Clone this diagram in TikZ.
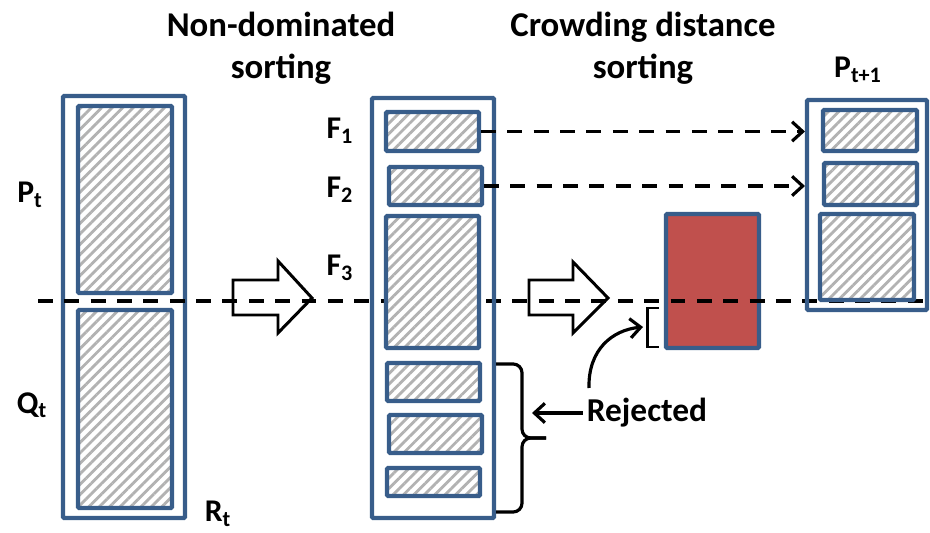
\documentclass[tikz,border=0pt]{standalone}
\usepackage{fontspec}
\setmainfont{Carlito}
\usetikzlibrary{arrows.meta, positioning, fit, patterns.meta}
\definecolor{boxblue}{RGB}{56, 93, 138}
\definecolor{cutred}{RGB}{192, 80, 77}
\begin{document}
\begin{tikzpicture}[x=0.02cm, y=-0.02cm,
    popbox/.style={draw=boxblue, line width=2.3pt, inner sep=0pt, rounded corners=0.6pt},
    front/.style={popbox, preaction={fill=white}, pattern={Lines[angle=45, distance=4.2pt, line width=1.6pt]}, pattern color=gray!60},
    lbl/.style={font=\fontsize{18}{20}\selectfont\bfseries, inner sep=2pt},
    title/.style={font=\fontsize{19.8}{24}\selectfont\bfseries, align=center, inner sep=0pt},
    dashline/.style={line width=2pt, dash pattern=on 8.5pt off 6.5pt},
    hollow/.style={line width=1.7pt, line join=miter},
    barb/.style={line width=1.8pt, -{Straight Barb[length=6pt, width=11pt, line width=1.8pt]}}
]
    \useasboundingbox (0,0) rectangle (930,533);

    % Titles
    \node[title] (ndsort) at (281,48) {Non-dominated\\sorting};
    \node[title] (cdsort) at (643,48) {Crowding distance\\sorting};
    \node[lbl] (Pnext) at (858,70) {P\textsubscript{t+1}};

    % R_t = P_t + Q_t
    \node[popbox, fit={(63,96) (185,518)}] (Rt) {};
    \node[front, fit={(78,106) (172,293)}] (Pt) {};
    \node[front, fit={(78,310) (172,508)}] (Qt) {};
    \node[lbl] (Ptlbl) at (30,195) {P\textsubscript{t}};
    \node[lbl] (Qtlbl) at (32,405) {Q\textsubscript{t}};
    \node[lbl] (Rtlbl) at (218,514) {R\textsubscript{t}};

    % Hollow arrows
    \draw[hollow] (233,280) -- (278,280) -- (278,261) -- (312,298) -- (278,333) -- (278,315) -- (233,315) -- cycle;
    \draw[hollow] (529,280) -- (573,280) -- (573,262) -- (608,298) -- (573,333) -- (573,315) -- (529,315) -- cycle;

    % Cut part of F3
    \node[popbox, fill=cutred, fit={(666,214) (759,348)}] (F3cut) {};

    % Cut line
    \coordinate (cutL) at (38,301);
    \coordinate (cutR) at (930,301);
    \draw[dashline] (cutL) -- (cutR);

    % Sorted fronts
    \node[popbox, fit={(372,98) (494,518)}] (mid) {};
    \node[front, fit={(386,112) (479,151)}] (F1) {};
    \node[front, fit={(389,167) (482,205)}] (F2) {};
    \node[front, fit={(386,216) (479,348)}] (F3) {};
    \node[front, fit={(387,363) (480,401)}] (F4) {};
    \node[front, fit={(389,415) (482,453)}] (F5) {};
    \node[front, fit={(387,468) (480,496)}] (F6) {};
    \node[lbl] (F1lbl) at (340,131) {F\textsubscript{1}};
    \node[lbl] (F2lbl) at (340,190) {F\textsubscript{2}};
    \node[lbl] (F3lbl) at (340,268) {F\textsubscript{3}};

    % New population
    \node[popbox, fit={(807,100) (927,310)}] (Pt1) {};
    \node[front, fit={(823,110) (917,151)}] (N1) {};
    \node[front, fit={(824,163) (917,205)}] (N2) {};
    \node[front, fit={(820,214) (914,300)}] (N3) {};

    \draw[dashline, -{Straight Barb[length=6pt, width=11pt, line width=1.8pt]}] (F1.east) -- (F1.east -| Pt1.west);
    \draw[dashline, -{Straight Barb[length=6pt, width=11pt, line width=1.8pt]}] (F2.east) -- (F2.east -| Pt1.west);

    % Rejected
    \draw[line width=1.8pt, rounded corners=5pt] (496,364) -- (522,364) -- (522,438) -- (546,438);
    \draw[line width=1.8pt, rounded corners=5pt] (546,438) -- (522,438) -- (522,512) -- (496,512);
    \draw[line width=1.7pt] (659,308) -- (647,308) -- (647,347) -- (659,347);
    \node[lbl, font=\fontsize{19}{23}\selectfont\bfseries] (rej) at (647,413) {Rejected};
    \coordinate (bracein) at (532,413);
    \coordinate (brk) at (643,327);
    \coordinate (rejtop) at (589,388);
    \draw[barb] (rej.west) -- (bracein);
    \draw[barb] (rejtop) .. controls (588,350) and (612,330) .. (brk);
\end{tikzpicture}
\end{document}
